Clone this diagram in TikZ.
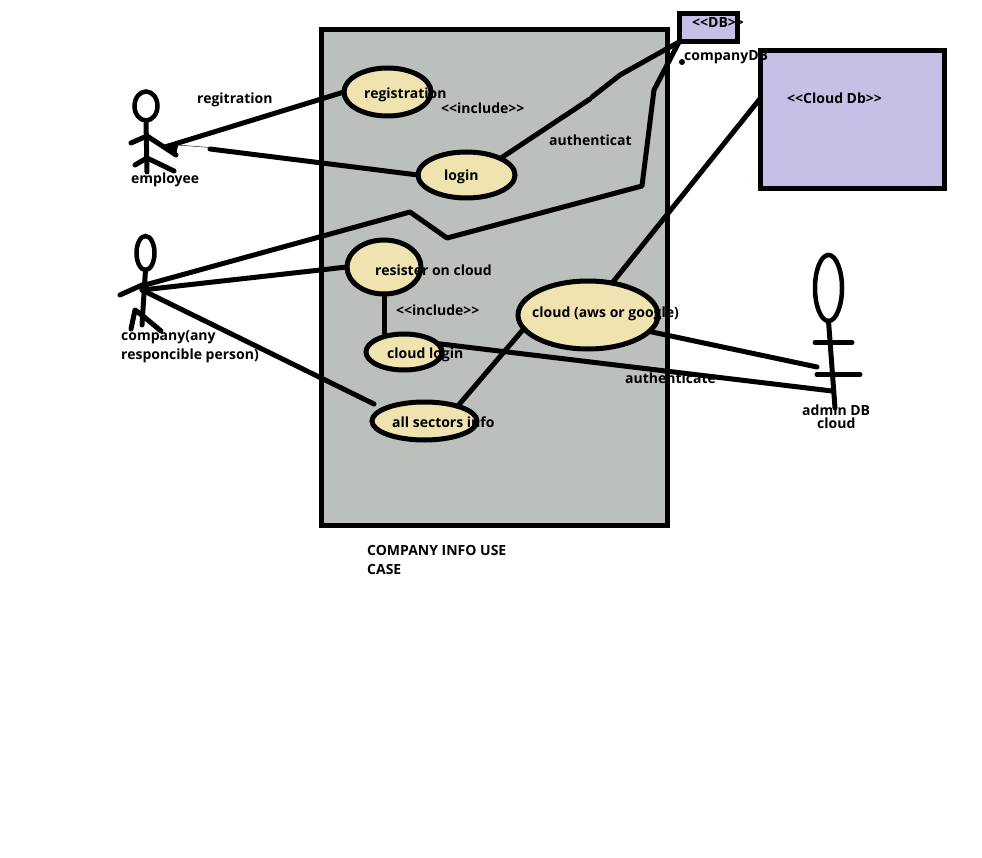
\documentclass[tikz,border=0pt]{standalone}
\usepackage{fontspec}
\setmainfont{Open Sans}
\usetikzlibrary{shapes.geometric}
\definecolor{myboundary}{RGB}{187,192,188}
\definecolor{mycase}{RGB}{239,228,176}
\definecolor{mydb}{RGB}{200,191,231}
\tikzset{
  casefill/.style={ellipse,fill=mycase,inner sep=0pt,outer sep=0pt},
  caseline/.style={ellipse,draw,line width=5pt,inner sep=0pt,outer sep=0pt},
  boxfill/.style={rectangle,inner sep=0pt,outer sep=0pt},
  boxline/.style={rectangle,draw,line width=5pt,inner sep=0pt,outer sep=0pt},
  head/.style={ellipse,draw,line width=4.5pt,inner sep=0pt,outer sep=0pt},
  txt/.style={anchor=west,inner sep=0pt,yshift=-1pt,font=\fontsize{14}{19}\selectfont\bfseries,align=left},
  link/.style={line width=5pt,line cap=round,line join=round}
}
\begin{document}
\begin{tikzpicture}[x=1pt,y=-1pt]
\useasboundingbox (0,0) rectangle (982,858);
% fills
\node [boxfill,fill=myboundary,minimum width=346pt,minimum height=496pt] (system) at (494.5,277.5) {};
\node [boxfill,fill=mydb,minimum width=58pt,minimum height=28pt] (db) at (708,28) {};
\node [boxfill,fill=mydb,minimum width=184pt,minimum height=138pt] (clouddb) at (852,120) {};
\node [casefill,minimum width=87pt,minimum height=48pt] (reg) at (387.5,92) {};
\node [casefill,minimum width=97pt,minimum height=46pt] (login) at (466.5,175) {};
\node [casefill,minimum width=74pt,minimum height=54pt] (resist) at (384,267) {};
\node [casefill,minimum width=76pt,minimum height=36pt] (cloudlogin) at (404,352) {};
\node [casefill,minimum width=105pt,minimum height=38pt] (sectors) at (424.5,421) {};
\node [casefill,minimum width=140pt,minimum height=68pt] (cloud) at (588,315) {};
% texts
\node [txt] (t1) at (197,99) {regitration};
\node [txt] (t2) at (364,94) {registration};
\node [txt] (t3) at (441,107) {<{}<include>{}>};
\node [txt] (t4) at (549,139) {authenticat};
\node [txt] (t5) at (444,176) {login};
\node [txt] (t6) at (131,179) {employee};
\node [txt] (t7) at (121,345.5) {company(any\\responcible person)};
\node [txt] (t8) at (375,269) {resister on cloud};
\node [txt] (t9) at (396,309) {<{}<include>{}>};
\node [txt] (t10) at (387,354) {cloud login};
\node [txt] (t11) at (532,313) {cloud (aws or google)};
\node [txt] (t12) at (392,421) {all sectors info};
\node [txt] (t13) at (625,377) {authenticate};
\node [txt] (t14) at (802,409) {admin DB};
\node [txt] (t15) at (817,422) {cloud};
\node [txt] (t16) at (367,558.5) {COMPANY INFO USE\\CASE};
\node [txt] (t17) at (692,22) {<{}<DB>{}>};
\node [txt] (t18) at (684,56) {companyDB};
\node [txt] (t19) at (787,97) {<{}<Cloud Db>{}>};
% employee
\node [head,minimum width=23pt,minimum height=29pt] (emphead) at (146,106) {};
\coordinate (emphand) at (165,147);
\draw [link] (emphead.south) -- (147,172);
\draw [link] (131,143) -- (147,136) -- (176,155);
\draw [link] (135,165) -- (147,158) -- (174,171);
% company
\node [head,minimum width=18pt,minimum height=34pt] (comphead) at (145.5,253) {};
\coordinate (comphand) at (142,290);
\draw [link] (comphead.south) -- (142,325);
\draw [link] (120,295) -- (142,285);
\draw [link] (131,329) -- (135,310) -- (143,316) -- (161,331);
% admin
\node [head,minimum width=27pt,minimum height=66pt] (admhead) at (828.5,288) {};
\coordinate (admarm) at (817,367);
\coordinate (admbody) at (832,391);
\draw [link] (admhead.south) -- (835,408);
\draw [link] (815,342.5) -- (852,342.5);
\draw [link] (817,374.5) -- (860,374.5);
% connectors
\draw [link] (emphand) -- (reg.west);
\fill (emphand) -- (178,146) -- (176,155) -- cycle;
\draw [thin] (emphand) ++(12,-2) -- (210,147.5);
\draw [link] (210,149) -- (login.west);
\draw [link] (login.26) -- (590,99);
\draw [link] (592,97) -- (620,75) -- (db.south west);
\coordinate (bend) at (410,212);
\draw [link] (comphand) ++(3,-5) -- (bend) -- (447,238) -- (642,186) -- (654,90) -- (db.south west);
\draw [link] (comphand) -- (resist.west);
\draw [link] (comphand) -- (374,404);
\draw [link] (resist.south) -- (cloudlogin.north -| resist.south);
\draw [link] (sectors.24) -- (cloud.192);
\draw [link] (cloud.53) -- (clouddb.167);
\draw [link] (cloud.-15) -- (admarm);
\draw [link] (cloudlogin.14) -- (admbody);
\fill (682,62) circle (3pt);
% outlines
\node [boxline,minimum width=346pt,minimum height=496pt] (systemline) at (system) {};
\node [boxline,minimum width=58pt,minimum height=28pt] (dbline) at (db) {};
\node [boxline,minimum width=184pt,minimum height=138pt] (clouddbline) at (clouddb) {};
\node [caseline,minimum width=87pt,minimum height=48pt] (regline) at (reg) {};
\node [caseline,minimum width=97pt,minimum height=46pt] (loginline) at (login) {};
\node [caseline,minimum width=74pt,minimum height=54pt] (resistline) at (resist) {};
\node [caseline,minimum width=76pt,minimum height=36pt] (cloudloginline) at (cloudlogin) {};
\node [caseline,minimum width=105pt,minimum height=38pt] (sectorsline) at (sectors) {};
\node [caseline,minimum width=140pt,minimum height=68pt] (cloudline) at (cloud) {};
\end{tikzpicture}
\end{document}
